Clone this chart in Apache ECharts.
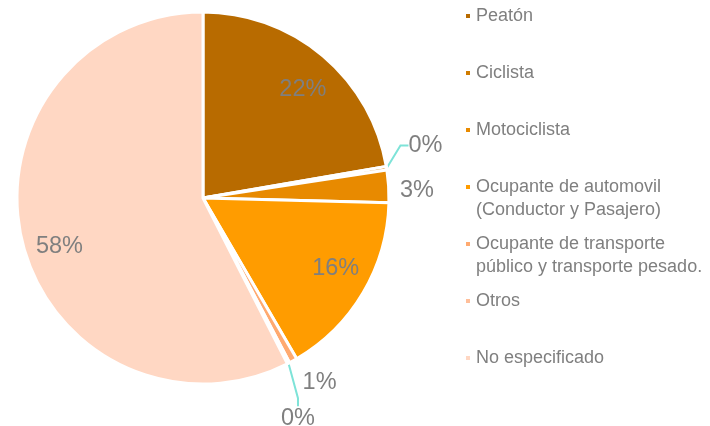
<!DOCTYPE html>
<html>
<head>
<meta charset="utf-8">
<script src="https://cdn.jsdelivr.net/npm/echarts@6/dist/echarts.min.js"></script>
<style>
    html, body { margin: 0; padding: 0; background: #fff; }
    #chart-pie { width: 710px; height: 426px; }
</style>
</head>
<body>
<div id="chart-pie"></div>
<script>
// categorias y porcentajes
const categories = [
    'Peatón',
    'Ciclista',
    'Motociclista',
    'Ocupante de automovil\n(Conductor y Pasajero)',
    'Ocupante de transporte\npúblico y transporte pesado.',
    'Otros',
    'No especificado'
];
const values = [22.3, 0.3, 2.8, 16.2, 0.7, 0.2, 57.5];
const colors = ['#B86B00', '#D07C00', '#E88A00', '#FF9C00', '#FFAA70', '#FFBF9A', '#FFD7C3'];

const textGray = '#7F7F7F';
const font = 'Liberation Sans, Arial, sans-serif';
const R = 186;

// ajuste fino de las etiquetas (dx, dy)
const outerNudge = {
    1: [2, -21],
    2: [-9, -2],
    4: [-37, 11],
    5: [-26, 21]
};
const innerNudge = {
    0: [2, 8],
    3: [2, -7],
    6: [4, 13]
};

function nudgeLayout (table) {
    return function (params) {
        let nudge = table[params.dataIndex];
        if (!nudge) {
            return {};
        }
        let r = params.labelRect;
        return {
            x: r.x + r.width / 2 + nudge[0],
            y: r.y + r.height / 2 + nudge[1],
            align: 'center',
            verticalAlign: 'middle'
        };
    };
}

let chartPie = echarts.init(document.getElementById('chart-pie'));

let pieData = [];
let innerData = [];
for (let i = 0, len = categories.length; i < len; i++) {
    let small = values[i] < 5;
    let item = {
        name: categories[i],
        value: values[i],
        itemStyle: { color: colors[i] }
    };
    if (small) {
        item.label = { show: true };
        item.labelLine = { show: values[i] < 0.5 };
    }
    pieData.push(item);
    innerData.push({
        name: categories[i],
        value: values[i],
        label: { show: !small }
    });
}

let legends = [];
for (let i = 0, len = categories.length; i < len; i++) {
    let twoLines = categories[i].indexOf('\n') >= 0;
    legends.push({
        orient: 'vertical',
        left: 464,
        top: 16 + 57 * i - (twoLines ? 34.5 : 11.5),
        padding: 0,
        itemWidth: 6,
        itemHeight: 6,
        icon: 'rect',
        selectedMode: false,
        data: [categories[i]],
        // linea vacia arriba para que el icono quede en la primera linea
        formatter: name => (name.indexOf('\n') >= 0 ? '\u00a0\n' + name : name),
        textStyle: {
            color: textGray,
            fontSize: 18,
            fontFamily: font,
            lineHeight: 23
        }
    });
}

chartPie.setOption({
    backgroundColor: '#fff',
    animation: false,
    legend: legends,
    series: [
        {
            type: 'pie',
            center: [203, 198],
            radius: R,
            startAngle: 90,
            avoidLabelOverlap: true,
            itemStyle: {
                borderColor: '#fff',
                borderWidth: 3
            },
            label: {
                show: false,
                position: 'outside',
                color: textGray,
                fontSize: 23.5,
                fontFamily: font,
                formatter: p => Math.round(p.value) + '%'
            },
            labelLine: {
                length: 12,
                length2: 8,
                lineStyle: { color: '#7EE3D8', width: 2 }
            },
            labelLayout: nudgeLayout(outerNudge),
            emphasis: { disabled: true },
            data: pieData
        },
        {
            type: 'pie',
            center: [203, 198],
            radius: [R * 0.6, R],
            startAngle: 90,
            silent: true,
            itemStyle: { color: 'rgba(0,0,0,0)' },
            label: {
                position: 'inside',
                color: textGray,
                fontSize: 23.5,
                fontFamily: font,
                formatter: p => Math.round(p.value) + '%'
            },
            labelLine: { show: false },
            labelLayout: nudgeLayout(innerNudge),
            emphasis: { disabled: true },
            data: innerData
        }
    ]
});
</script>
</body>
</html>
